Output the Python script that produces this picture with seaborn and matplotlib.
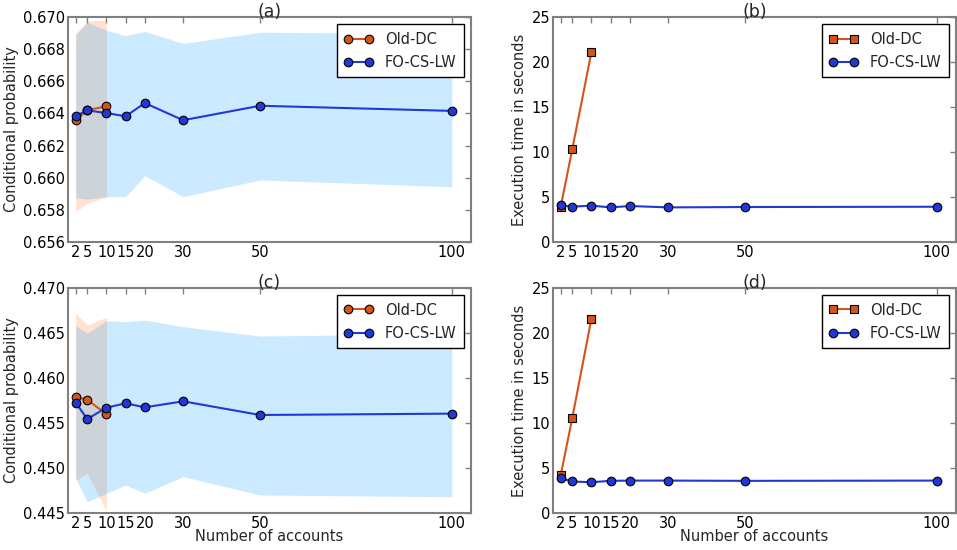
import numpy as np
import pandas as pd
import seaborn as sns
import matplotlib.pyplot as plt

# number of accounts
accounts = [2, 5, 10, 15, 20, 30, 50, 100]
accounts_old = [2, 5, 10]

# (a) conditional probability, query 1
prob_a_fo = [0.66384, 0.66419, 0.66403, 0.66382, 0.66465, 0.66358, 0.66448, 0.66416]
prob_a_fo_lo = [0.65876, 0.65867, 0.65882, 0.65882, 0.66013, 0.65882, 0.65986, 0.65944]
prob_a_fo_hi = [0.66888, 0.66967, 0.66919, 0.66884, 0.66911, 0.66836, 0.66905, 0.66899]
prob_a_old = [0.66357, 0.66421, 0.66444]
prob_a_old_lo = [0.65789, 0.65841, 0.65880]
prob_a_old_hi = [0.66900, 0.66975, 0.66981]

# (c) conditional probability, query 2
prob_c_fo = [0.45726, 0.45544, 0.45670, 0.45719, 0.45674, 0.45741, 0.45589, 0.45604]
prob_c_fo_lo = [0.44880, 0.44626, 0.44719, 0.44811, 0.44719, 0.44904, 0.44700, 0.44680]
prob_c_fo_hi = [0.46581, 0.46496, 0.46637, 0.46626, 0.46644, 0.46570, 0.46467, 0.46490]
prob_c_old = [0.45789, 0.45759, 0.45597]
prob_c_old_lo = [0.44860, 0.44941, 0.44522]
prob_c_old_hi = [0.46719, 0.46589, 0.46674]

# (b), (d) execution time in seconds
time_b_fo = [4.07, 3.93, 4.04, 3.85, 4.00, 3.85, 3.89, 3.92]
time_b_old = [3.92, 10.3, 21.1]
time_d_fo = [3.87, 3.50, 3.42, 3.57, 3.60, 3.60, 3.57, 3.60]
time_d_old = [4.2, 10.53, 21.6]

c_old = '#d4541c'
c_fo = '#2238d4'
fill_old = '#ff7f2a'
fill_fo = '#0099ff'

sns.set_theme(style='white')
plt.rcParams['font.family'] = ['DejaVu Sans']
plt.rcParams['axes.edgecolor'] = '#808080'
plt.rcParams['xtick.color'] = '#808080'
plt.rcParams['ytick.color'] = '#808080'
plt.rcParams['xtick.labelcolor'] = 'black'
plt.rcParams['ytick.labelcolor'] = 'black'

fig, axes = plt.subplots(2, 2, figsize=(9.57, 5.5), dpi=100)
plt.subplots_adjust(left=0.0711, right=0.999, top=0.969, bottom=0.0673,
                    wspace=0.2035, hspace=0.2044)


def style_axis(ax, title, ylabel, xlabel, ylim, yticks, fmt):
    ax.set_xlim(0, 105)
    ax.set_xticks(accounts)
    ax.set_xticklabels([str(a) for a in accounts])
    ax.set_ylim(*ylim)
    ax.set_yticks(yticks)
    ax.set_yticklabels([fmt.format(v) for v in yticks])
    ax.tick_params(direction='in', top=True, right=True, length=4, width=1,
                   labelsize=10.5, pad=2)
    for s in ax.spines.values():
        s.set_linewidth(1.5)
        s.set_color('#808080')
    ax.set_title(title, fontsize=12.5, pad=0)
    ax.set_ylabel(ylabel, fontsize=10.5, labelpad=3)
    if xlabel:
        ax.set_xlabel(xlabel, fontsize=10.5, labelpad=-1)
    else:
        ax.set_xlabel('')
    leg = ax.legend(loc='upper right', numpoints=2, fancybox=False,
                    framealpha=1, edgecolor='black', fontsize=10.5,
                    handlelength=2.0, borderpad=0.5, labelspacing=0.55)
    leg.get_frame().set_linewidth(1.0)


def prob_panel(ax, old, old_lo, old_hi, fo, fo_lo, fo_hi):
    ax.fill_between(accounts_old, old_lo, old_hi, color=fill_old, alpha=0.22, lw=0)
    ax.fill_between(accounts, fo_lo, fo_hi, color=fill_fo, alpha=0.2, lw=0)
    df_old = pd.DataFrame({'x': accounts_old, 'y': old})
    df_fo = pd.DataFrame({'x': accounts, 'y': fo})
    sns.lineplot(data=df_old, x='x', y='y', ax=ax, color=c_old, marker='o',
                 markersize=6.2, markeredgecolor='black', markeredgewidth=0.8,
                 lw=1.5, label='Old-DC')
    sns.lineplot(data=df_fo, x='x', y='y', ax=ax, color=c_fo, marker='o',
                 markersize=6.2, markeredgecolor='black', markeredgewidth=0.8,
                 lw=1.5, label='FO-CS-LW')


def time_panel(ax, old, fo):
    df_old = pd.DataFrame({'x': accounts_old, 'y': old})
    df_fo = pd.DataFrame({'x': accounts, 'y': fo})
    sns.lineplot(data=df_old, x='x', y='y', ax=ax, color=c_old, marker='s',
                 markersize=5.8, markeredgecolor='black', markeredgewidth=0.8,
                 lw=1.5, label='Old-DC')
    sns.lineplot(data=df_fo, x='x', y='y', ax=ax, color=c_fo, marker='o',
                 markersize=6.2, markeredgecolor='black', markeredgewidth=0.8,
                 lw=1.5, label='FO-CS-LW')


prob_panel(axes[0, 0], prob_a_old, prob_a_old_lo, prob_a_old_hi,
           prob_a_fo, prob_a_fo_lo, prob_a_fo_hi)
style_axis(axes[0, 0], '(a)', 'Conditional probability', None,
           (0.656, 0.670), np.arange(0.656, 0.6705, 0.002), '{:.3f}')

time_panel(axes[0, 1], time_b_old, time_b_fo)
style_axis(axes[0, 1], '(b)', 'Execution time in seconds', None,
           (0, 25), np.arange(0, 26, 5), '{:.0f}')

prob_panel(axes[1, 0], prob_c_old, prob_c_old_lo, prob_c_old_hi,
           prob_c_fo, prob_c_fo_lo, prob_c_fo_hi)
style_axis(axes[1, 0], '(c)', 'Conditional probability', 'Number of accounts',
           (0.445, 0.470), np.arange(0.445, 0.4705, 0.005), '{:.3f}')

time_panel(axes[1, 1], time_d_old, time_d_fo)
style_axis(axes[1, 1], '(d)', 'Execution time in seconds', 'Number of accounts',
           (0, 25), np.arange(0, 26, 5), '{:.0f}')

plt.savefig('out.png', dpi=100)
